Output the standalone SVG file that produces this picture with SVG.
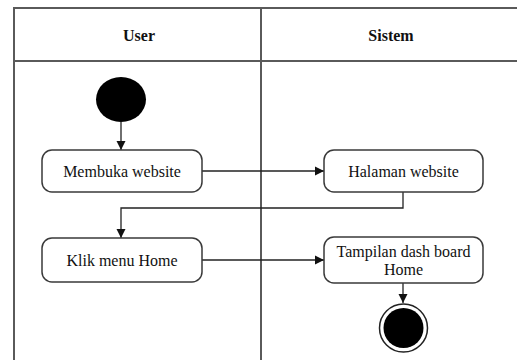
<svg xmlns="http://www.w3.org/2000/svg" width="517" height="360" viewBox="0 0 517 360">
<style>
.frame{fill:none;stroke:#5a5a5a;stroke-width:2}
.node{fill:#fff;stroke:#3a3a3a;stroke-width:1.5}
.conn{fill:none;stroke:#222;stroke-width:1.3}
.hdr{font-family:"Liberation Serif","Times New Roman",serif;font-size:16px;font-weight:bold;fill:#111;text-anchor:middle}
.lbl{font-family:"Liberation Serif","Times New Roman",serif;font-size:16px;fill:#111;text-anchor:middle}
</style>
<defs>
<marker id="arr" markerWidth="10" markerHeight="10" refX="9" refY="5" orient="auto" markerUnits="userSpaceOnUse">
<path d="M0,0.5 L9,5 L0,9.5 Z" fill="#111"/>
</marker>
</defs>
<rect width="517" height="360" fill="#fff"/>
<g id="swimlanes">
<path class="frame" d="M14,360 V8 H517 M14,61 H517 M261,8 V360"/>
<text class="hdr" x="139" y="41">User</text>
<text class="hdr" x="391" y="41">Sistem</text>
</g>
<g id="connectors">
<path class="conn" d="M121,122 V150" marker-end="url(#arr)"/>
<path class="conn" d="M202,171 H324" marker-end="url(#arr)"/>
<path class="conn" d="M403,192 V208 H121 V238" marker-end="url(#arr)"/>
<path class="conn" d="M202,260 H324" marker-end="url(#arr)"/>
<path class="conn" d="M403,283 V303" marker-end="url(#arr)"/>
</g>
<g id="start">
<ellipse cx="121" cy="99.5" rx="25" ry="22.5" fill="#000"/>
</g>
<g id="membuka">
<rect class="node" x="42" y="150" width="160" height="42" rx="10"/>
<text class="lbl" x="122" y="176.5">Membuka website</text>
</g>
<g id="halaman">
<rect class="node" x="324" y="150" width="159" height="42" rx="10"/>
<text class="lbl" x="403.5" y="176.5">Halaman website</text>
</g>
<g id="klik">
<rect class="node" x="42" y="238" width="160" height="44" rx="10"/>
<text class="lbl" x="122" y="265.5">Klik menu Home</text>
</g>
<g id="tampilan">
<rect class="node" x="324" y="237" width="159" height="46" rx="10"/>
<text class="lbl" x="403.5" y="257">Tampilan dash board</text>
<text class="lbl" x="403.5" y="274.5">Home</text>
</g>
<g id="end">
<circle cx="403.5" cy="328" r="24" fill="#fff" stroke="#222" stroke-width="1.5"/>
<circle cx="403.5" cy="328" r="20" fill="#000"/>
</g>
</svg>
